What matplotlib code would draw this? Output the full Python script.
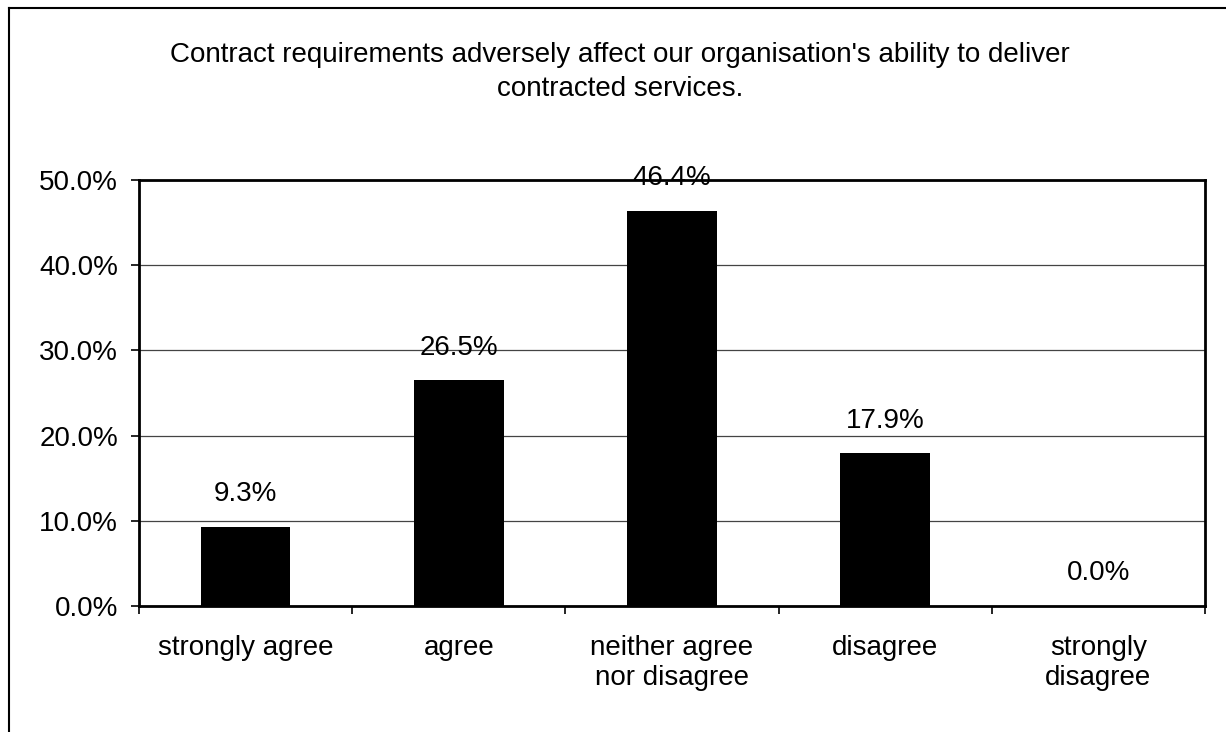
import numpy as np
import matplotlib
matplotlib.use("Agg")
import matplotlib.pyplot as plt
from matplotlib.lines import Line2D
from matplotlib.ticker import FuncFormatter

plt.rcParams['font.family'] = ['Liberation Sans', 'DejaVu Sans']

# survey responses (% of organisations)
categories = ['strongly agree', 'agree', 'neither agree\nnor disagree',
              'disagree', 'strongly\ndisagree']
shares = [9.3, 26.5, 46.4, 17.9, 0.0]
y_ticks = [0, 10, 20, 30, 40, 50]
title = ("Contract requirements adversely affect our organisation's ability to deliver\n"
         "contracted services.")

W, H = 1226, 732
FS = 20
fig = plt.figure(figsize=(W / 100, H / 100), dpi=100)
fig.patch.set_facecolor('white')

# chart area frame (left + top edges only visible)
fig.add_artist(Line2D([9 / W, 9 / W], [0, 1 - 8 / H], transform=fig.transFigure,
                      color='black', lw=1.5))
fig.add_artist(Line2D([9 / W, 1], [1 - 8 / H, 1 - 8 / H], transform=fig.transFigure,
                      color='black', lw=1.5))

ax = fig.add_axes([139 / W, 1 - 606 / H, (1205 - 139) / W, (606 - 180) / H])

x = np.arange(len(categories))
ax.bar(x, shares, width=0.42, color='black', zorder=3)

for xi, v in zip(x, shares):
    ax.annotate(f'{v:.1f}%', (xi, v), xytext=(0, 23.5), textcoords='offset points',
                ha='center', va='center', fontsize=FS, zorder=4)

ax.set_xlim(-0.5, len(categories) - 0.5)
ax.set_ylim(0, 50)
ax.set_yticks(y_ticks)
ax.yaxis.set_major_formatter(FuncFormatter(lambda v, _: f'{v:.1f}%'))
ax.yaxis.grid(True, color='#444444', lw=0.9, zorder=1)

# category ticks sit on the boundaries between bars
ax.set_xticks(np.arange(len(categories) + 1) - 0.5)
ax.set_xticklabels([])
ax.set_xticks(x, minor=True)
ax.set_xticklabels(categories, minor=True, fontsize=FS, linespacing=1.2)
ax.tick_params(axis='x', which='minor', length=0, pad=21)
ax.tick_params(axis='x', which='major', length=6, width=1.2, direction='out')
ax.tick_params(axis='y', length=6, width=1.2, direction='out', labelsize=FS, pad=9)

for side in ['left', 'right', 'top', 'bottom']:
    ax.spines[side].set_linewidth(2)
    ax.spines[side].set_color('black')

fig.text(0.506, 1 - 72 / H, title, ha='center', va='center', fontsize=FS,
         linespacing=1.38)

fig.savefig('out.png', dpi=100, facecolor='white')
